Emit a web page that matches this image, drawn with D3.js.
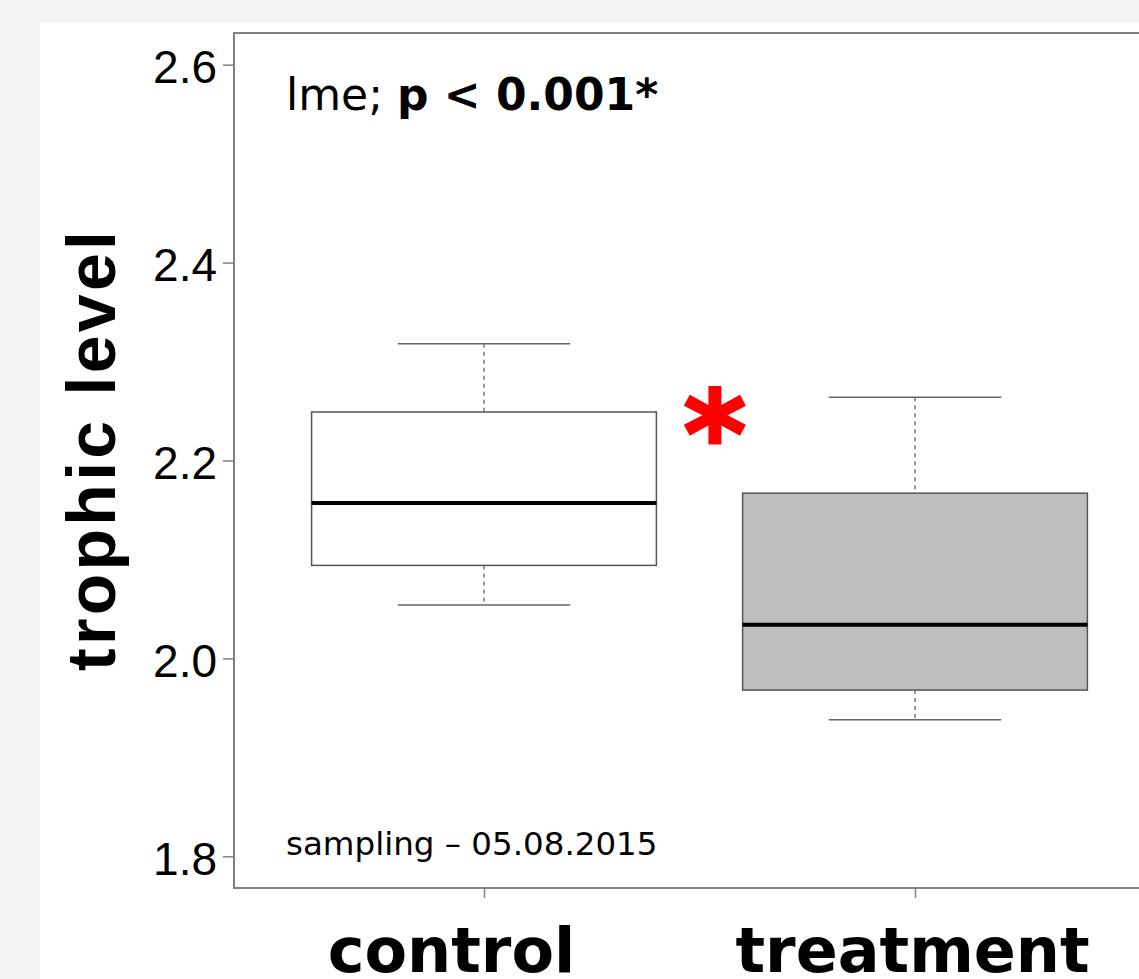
<!DOCTYPE html>
<html><head><meta charset="utf-8">
<script src="https://cdn.jsdelivr.net/npm/d3@7/dist/d3.min.js"></script>
<style>body{margin:0;background:#f2f2f2;}svg{display:block;}</style>
</head><body>
<svg id="c" width="1139" height="979"></svg>
<script>
const categories = ["control", "treatment"];
const whiskerLow  = [2.054, 1.938];
const q1          = [2.094, 1.968];
const medians     = [2.157, 2.034];
const q3          = [2.249, 2.167];
const whiskerHigh = [2.318, 2.264];
const boxFills    = ["#ffffff", "#bebebe"];
const yTicks      = [1.8, 2.0, 2.2, 2.4, 2.6];
const labelShift  = [-33, -3];

const svg = d3.select("#c");
svg.append("rect").attr("x",40).attr("y",23).attr("width",1139-40).attr("height",979-23).attr("fill","#fff");

const x = d3.scaleLinear().domain([0.42, 2.58]).range([234, 1165]);
const y = d3.scaleLinear().domain([1.768, 2.632]).range([888, 33]);

const data = categories.map((c,i)=>({c,i,pos:i+1,lo:whiskerLow[i],q1:q1[i],med:medians[i],q3:q3[i],hi:whiskerHigh[i],fill:boxFills[i]}));
const bw = x(1.4)-x(1);   // half box width (boxwex 0.8)
const cw = x(1.2)-x(1);   // half cap width

const g = svg.append("g");
const gs = g.selectAll("g.box").data(data).enter().append("g");
gs.append("line").attr("x1",d=>x(d.pos)).attr("x2",d=>x(d.pos)).attr("y1",d=>y(d.hi)).attr("y2",d=>y(d.q3))
  .attr("stroke","#555").attr("stroke-width",1.2).attr("stroke-dasharray","4,4");
gs.append("line").attr("x1",d=>x(d.pos)).attr("x2",d=>x(d.pos)).attr("y1",d=>y(d.q1)).attr("y2",d=>y(d.lo))
  .attr("stroke","#555").attr("stroke-width",1.2).attr("stroke-dasharray","4,4");
gs.append("line").attr("x1",d=>x(d.pos)-cw).attr("x2",d=>x(d.pos)+cw).attr("y1",d=>y(d.hi)).attr("y2",d=>y(d.hi))
  .attr("stroke","#666").attr("stroke-width",1.5);
gs.append("line").attr("x1",d=>x(d.pos)-cw).attr("x2",d=>x(d.pos)+cw).attr("y1",d=>y(d.lo)).attr("y2",d=>y(d.lo))
  .attr("stroke","#666").attr("stroke-width",1.5);
gs.append("rect").attr("x",d=>x(d.pos)-bw).attr("width",2*bw).attr("y",d=>y(d.q3)).attr("height",d=>y(d.q1)-y(d.q3))
  .attr("fill",d=>d.fill).attr("stroke","#555").attr("stroke-width",1.5);
gs.append("line").attr("x1",d=>x(d.pos)-bw).attr("x2",d=>x(d.pos)+bw).attr("y1",d=>y(d.med)).attr("y2",d=>y(d.med))
  .attr("stroke","#000").attr("stroke-width",4);

svg.append("rect").attr("x",234).attr("y",33).attr("width",1165-234).attr("height",888-33)
  .attr("fill","none").attr("stroke","#808080").attr("stroke-width",2);

const ya = svg.append("g").attr("transform","translate(234,0)")
  .call(d3.axisLeft(y).tickValues(yTicks).tickFormat(d3.format(".1f")).tickSize(11).tickPadding(6));
ya.select(".domain").remove();
ya.selectAll(".tick line").attr("stroke","#808080").attr("stroke-width",1.5);
ya.selectAll(".tick text").attr("font-family","'Liberation Sans', Arial, sans-serif").attr("font-size",46)
  .attr("fill","#000").attr("dy","0.39em");

const xa = svg.append("g").attr("transform","translate(0,888)")
  .call(d3.axisBottom(x).tickValues([1,2]).tickFormat((d)=>categories[d-1]).tickSize(10).tickPadding(0));
xa.select(".domain").remove();
xa.selectAll(".tick line").attr("stroke","#808080").attr("stroke-width",1.5);
xa.selectAll(".tick text").attr("font-family","'DejaVu Sans', Verdana, sans-serif").attr("font-weight","bold")
  .attr("font-size",62).attr("fill","#000").attr("y",84).attr("dy",0)
  .attr("dx",(d)=>labelShift[d-1]);

svg.append("text").attr("transform","translate(115,451) rotate(-90)").attr("text-anchor","middle")
  .attr("font-family","'Liberation Sans', Arial, sans-serif").attr("font-weight","bold").attr("font-size",68)
  .attr("textLength",440).attr("lengthAdjust","spacing").text("trophic level");

const t1 = svg.append("text").attr("x",286).attr("y",110).attr("font-family","'DejaVu Sans', Verdana, sans-serif").attr("font-size",44);
t1.append("tspan").text("lme; ");
t1.append("tspan").attr("font-weight","bold").text("p < 0.001*");
svg.append("text").attr("x",286).attr("y",855).attr("font-family","'DejaVu Sans', Verdana, sans-serif").attr("font-size",32.5)
  .text("sampling \u2013 05.08.2015");
svg.append("text").attr("x",715).attr("y",476).attr("text-anchor","middle").attr("fill","#ff0000")
  .attr("stroke","#ff0000").attr("stroke-width",3).attr("stroke-linejoin","miter")
  .attr("font-family","'DejaVu Sans', Verdana, sans-serif").attr("font-weight","bold").attr("font-size",120).text("*");
</script>
</body></html>
